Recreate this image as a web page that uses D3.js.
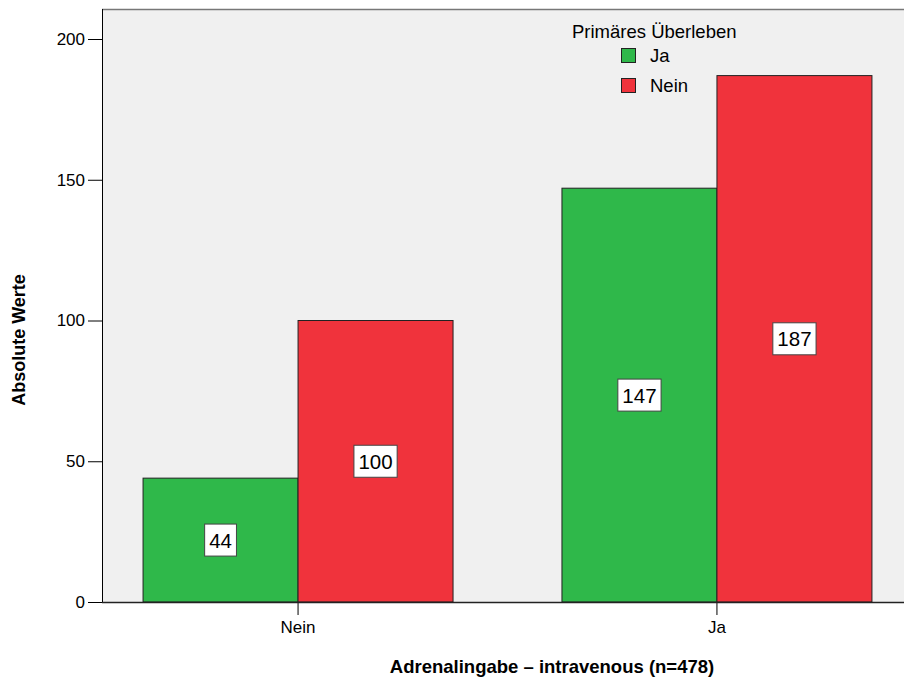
<!DOCTYPE html>
<html><head><meta charset="utf-8">
<script src="https://cdn.jsdelivr.net/npm/d3@7"></script>
<style>
html,body{margin:0;padding:0;background:#fff;}
text{font-family:"Liberation Sans",Arial,Helvetica,sans-serif;}
</style></head>
<body><svg id="c" width="904" height="682"></svg>
<script>
const groups = ["Nein", "Ja"];
const series = ["Ja", "Nein"];
const valuesJa = [44, 147];
const valuesNein = [100, 187];
const yTicks = [0, 50, 100, 150, 200];
const colors = ["#2fb84a", "#f0333c"];
const legendTitle = "Primäres Überleben";
const xTitle = "Adrenalingabe – intravenous (n=478)";
const yTitle = "Absolute Werte";

(function () {
const svg = d3.select("#c");
const pL = 102, pR = 913, pT = 9, pB = 602;
const y = d3.scaleLinear().domain([0, 200]).range([pB, 39]);
const x0 = d3.scaleBand().domain(groups).range([pL, pR]).paddingInner(0.26).paddingOuter(0.098);
const x1 = d3.scaleBand().domain(series).range([0, x0.bandwidth()]);

svg.append("rect").attr("x", pL).attr("y", pT).attr("width", pR - pL).attr("height", pB - pT).attr("fill", "#f0f0f0");
svg.append("line").attr("x1", pL).attr("x2", 904).attr("y1", pT + 0.5).attr("y2", pT + 0.5).attr("stroke", "#777").attr("stroke-width", 1.5);

const data = groups.map((g, i) => ({g, vals: [valuesJa[i], valuesNein[i]]}));
const gg = svg.selectAll("g.grp").data(data).join("g").attr("class", "grp")
  .attr("transform", d => `translate(${x0(d.g)},0)`);
gg.selectAll("rect").data(d => d.vals.map((v, j) => ({s: series[j], v, j})))
  .join("rect")
  .attr("x", d => x1(d.s)).attr("y", d => y(d.v))
  .attr("width", x1.bandwidth()).attr("height", d => y(0) - y(d.v))
  .attr("fill", d => colors[d.j]).attr("stroke", "#222").attr("stroke-width", 1);

gg.each(function(d) {
  const g = d3.select(this);
  d.vals.forEach((v, j) => {
    const cx = x1(series[j]) + x1.bandwidth() / 2;
    const cy = (y(v) + y(0)) / 2;
    const t = g.append("text").attr("x", cx).attr("y", cy + 7.5).attr("text-anchor", "middle")
      .attr("font-size", 20.5).attr("fill", "#000").text(v);
    const w = t.node().getComputedTextLength();
    g.insert("rect", () => t.node()).attr("x", cx - w / 2 - 4.5).attr("y", cy - 16).attr("width", w + 9).attr("height", 32)
      .attr("fill", "#fff").attr("stroke", "#444").attr("stroke-width", 1);
  });
});

const ya = svg.append("g").attr("transform", `translate(${pL},0)`)
  .call(d3.axisLeft(y).tickValues(yTicks).tickSize(14).tickPadding(3));
ya.select(".domain").remove();
ya.selectAll("line").attr("stroke", "#000");
ya.selectAll("text").attr("font-size", 17).attr("fill", "#000").attr("font-family", "Liberation Sans, Arial, sans-serif");
svg.append("line").attr("x1", pL + 0.5).attr("x2", pL + 0.5).attr("y1", pT).attr("y2", pB).attr("stroke", "#000");

const xa = svg.append("g").attr("transform", `translate(0,${pB})`)
  .call(d3.axisBottom(x0).tickSize(13).tickPadding(6));
xa.select(".domain").remove();
xa.selectAll("line").attr("stroke", "#000");
xa.selectAll("text").attr("font-size", 17).attr("fill", "#000").attr("font-family", "Liberation Sans, Arial, sans-serif");
svg.append("line").attr("x1", pL).attr("x2", 904).attr("y1", pB + 0.5).attr("y2", pB + 0.5).attr("stroke", "#222").attr("stroke-width", 1.5);

svg.append("text").attr("x", 552).attr("y", 673).attr("text-anchor", "middle")
  .attr("font-size", 18.5).attr("font-weight", "bold").text(xTitle);
svg.append("text").attr("transform", "translate(25,340) rotate(-90)").attr("text-anchor", "middle")
  .attr("font-size", 18).attr("font-weight", "bold").text(yTitle);

svg.append("text").attr("x", 572).attr("y", 38).attr("font-size", 18.5).text(legendTitle);
series.forEach((s, i) => {
  const yy = 48 + i * 30;
  svg.append("rect").attr("x", 621.5).attr("y", yy + 0.5).attr("width", 14).attr("height", 14)
    .attr("fill", colors[i]).attr("stroke", "#222");
  svg.append("text").attr("x", 650).attr("y", yy + 14).attr("font-size", 18.5).text(s);
});
})();
</script></body></html>
